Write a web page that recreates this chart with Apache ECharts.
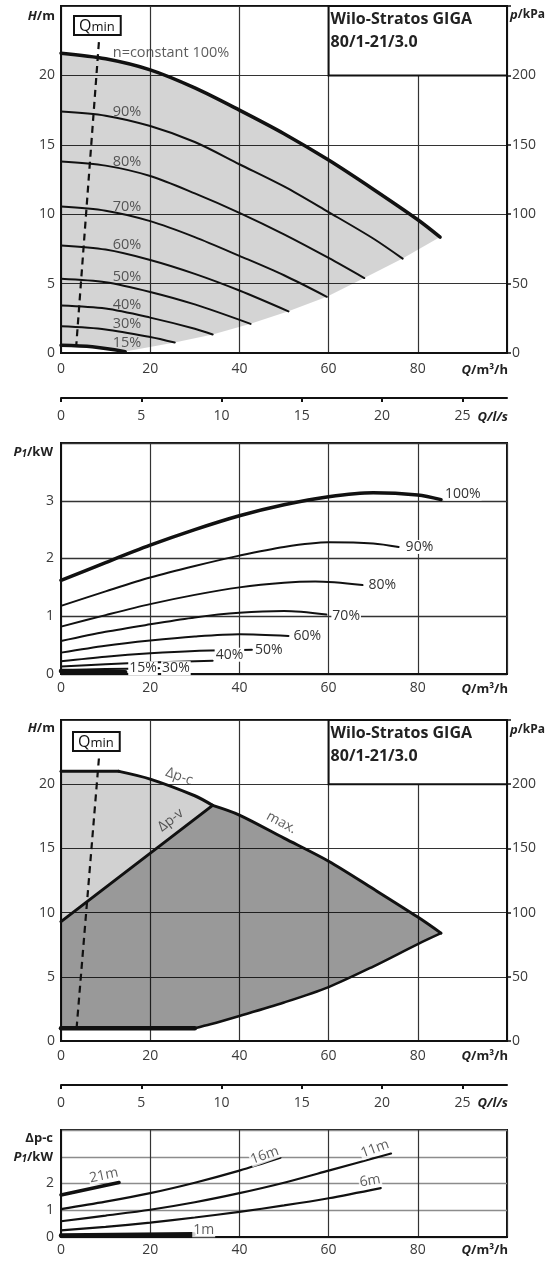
<!DOCTYPE html>
<html><head><meta charset="utf-8">
<script src="https://cdn.jsdelivr.net/npm/echarts@6/dist/echarts.min.js"></script>
<style>html,body{margin:0;padding:0;background:#fff;}#chart{width:557px;height:1263px;}</style>
</head><body><div id="chart"></div>
<script>
// ================= DATA =================
const qTicks = [0, 20, 40, 60, 80];          // Q / m³/h
const qlsTicks = [0, 5, 10, 15, 20, 25];     // Q / l/s
const hTicks = [0, 5, 10, 15, 20];           // H / m
const pTicks = [0, 50, 100, 150, 200];       // p / kPa
const p1Ticks = [0, 1, 2, 3];                // P1 / kW (chart 2)
const p1TicksB = [0, 1, 2];                  // P1 / kW (chart 4)

// Chart 1: H(Q) at n = constant
const h100 = [[0,21.6],[10,21.2],[20,20.4],[30,19.1],[40,17.5],[50,15.8],[60,13.9],[70,11.8],[80,9.6],[85,8.35]];
const h90  = [[0,17.4],[10,17.1],[20,16.35],[30,15.2],[40,13.6],[50,12.0],[60,10.15],[70,8.25],[76.6,6.8]];
const h80  = [[0,13.8],[10,13.5],[20,12.75],[30,11.5],[40,10.1],[50,8.55],[60,6.85],[68,5.4]];
const h70  = [[0,10.55],[10,10.25],[20,9.5],[30,8.35],[40,7.0],[50,5.6],[59.6,4.05]];
const h60  = [[0,7.75],[10,7.45],[20,6.7],[30,5.7],[40,4.5],[51,3.0]];
const h50  = [[0,5.35],[10,5.1],[20,4.4],[30,3.5],[42.5,2.1]];
const h40  = [[0,3.42],[10,3.2],[20,2.55],[30,1.75],[34,1.33]];
const h30  = [[0,1.92],[10,1.7],[20,1.15],[25.5,0.75]];
const h15  = [[0,0.56],[7,0.45],[14.4,0.1]];
const hEnds = [[14.4,0.1],[25.5,0.75],[34,1.33],[42.5,2.1],[51,3.0],[59.6,4.05],[68,5.4],[76.6,6.8],[85,8.35]];
const qmin1 = [[8.5,22.4],[3.4,0.45]];
const hLabels = [['n=constant 100%',21.6],['90%',17.4],['80%',13.8],['70%',10.54],['60%',7.77],['50%',5.5],['40%',3.45],['30%',2.12],['15%',0.76]];
const hLabelQ = 11.6;

// Chart 2: P1(Q)
const p100 = [[0,1.62],[10,1.93],[20,2.23],[30,2.5],[40,2.74],[50,2.93],[60,3.07],[70,3.14],[80,3.1],[85.2,3.02]];
const p90  = [[0,1.18],[10,1.43],[20,1.67],[30,1.87],[40,2.05],[50,2.2],[60,2.28],[70,2.26],[75.7,2.2]];
const p80  = [[0,0.82],[10,1.02],[20,1.21],[30,1.37],[40,1.5],[50,1.58],[57,1.6],[67.6,1.54]];
const p70  = [[0,0.57],[10,0.73],[20,0.86],[30,0.98],[40,1.06],[50,1.09],[59.5,1.03]];
const p60  = [[0,0.37],[10,0.49],[20,0.58],[30,0.65],[40,0.69],[51,0.66]];
const p50  = [[0,0.22],[10,0.3],[20,0.36],[30,0.4],[42.8,0.42]];
const p40  = [[0,0.13],[10,0.17],[20,0.2],[34,0.23]];
const p30  = [[0,0.07],[10,0.085],[22,0.1]];
const p15  = [[0,0.05],[14.4,0.03]];

// Chart 3: control modes
const dpcFlat  = [[0,21],[13,21]];
const dpcCurve = [[13,21],[20,20.4],[30,19.1],[34,18.35]];
const maxCurve = [[34,18.35],[40,17.6],[50,15.8],[60,14.0],[70,11.85],[80,9.65],[85.2,8.4]];
const dpv      = [[0,9.3],[34,18.35]];
const minFlat  = [[0,1.0],[30,1.0]];
const minCurve = [[30,1.0],[33.5,1.3],[40,1.95],[50,3.0],[60,4.2],[70,5.8],[80,7.55],[85.2,8.4]];
const qmin3 = [[8.5,22.0],[3.4,0.6]];
const ctlLabels = [['Δp-c',26.5,20.6,-20],['Δp-v',24.6,17.2,38],['max.',49.4,17.0,-28]];

// Chart 4: P1 at Δp-c
const c21 = [[0,1.57],[13,2.04]];
const c16 = [[0,1.04],[10,1.32],[20,1.64],[30,2.03],[40,2.48],[49.2,2.96]];
const c11 = [[0,0.59],[10,0.8],[20,1.02],[30,1.3],[40,1.64],[50,2.03],[60,2.48],[74,3.12]];
const c6  = [[0,0.25],[10,0.38],[20,0.54],[30,0.73],[40,0.94],[50,1.18],[60,1.45],[71.7,1.83]];
const c1  = [[0,0.06],[29.7,0.1]];
const cLabels = [['21m',9.6,2.3,12],['16m',45.7,3.05,20],['11m',70.4,3.3,20],['6m',69.3,2.1,10],['1m',32,0.25,0]];

const titleLines = ['Wilo-Stratos GIGA', '80/1-21/3.0'];

// ================= STYLE / HELPERS =================
const FONT = "'Open Sans', 'DejaVu Sans', sans-serif";
const INK = '#111';
const TXT = '#3a3a3a';
const GRIDC = '#333';

function gridBox(top, height, show) {
  return {left:61, right:50, top, height, show, borderColor:INK, borderWidth:2, backgroundColor:'transparent', containLabel:false, outerBoundsMode:'none'};
}
function qX(gi, margin) {
  return {type:'value', gridIndex:gi, min:0, max:100, interval:20,
    axisLine:{show:true, onZero:false, lineStyle:{color:INK, width:2}}, axisTick:{show:false},
    axisLabel:{margin, color:TXT, fontSize:14, fontFamily:FONT, formatter:v => qTicks.includes(v) ? String(v) : '', showMaxLabel:false},
    splitLine:{show:true, lineStyle:{color:GRIDC, width:1.2}}};
}
function lsX(gi) {
  return {type:'value', gridIndex:gi, min:0, max:100/3.6, interval:5,
    axisLine:{show:true, onZero:false, lineStyle:{color:INK, width:2}},
    axisTick:{show:true, length:4, lineStyle:{color:INK, width:2}},
    axisLabel:{margin:11, color:TXT, fontSize:14, fontFamily:FONT, formatter:v => qlsTicks.includes(v) ? String(v) : '', showMaxLabel:false},
    splitLine:{show:false}};
}
function hY(gi) {
  return {type:'value', gridIndex:gi, min:0, max:25, interval:5,
    axisLine:{show:true, onZero:false, lineStyle:{color:INK, width:2}}, axisTick:{show:false},
    axisLabel:{margin:6, color:TXT, fontSize:14, fontFamily:FONT, formatter:v => hTicks.includes(v) ? String(v) : ''},
    splitLine:{show:true, lineStyle:{color:GRIDC, width:1.2}}};
}
function pY(gi) {
  return {type:'value', gridIndex:gi, position:'right', min:0, max:250, interval:50,
    axisLine:{show:true, onZero:false, lineStyle:{color:INK, width:2}},
    axisTick:{show:true, length:4, lineStyle:{color:INK, width:1.5}},
    axisLabel:{margin:5, color:TXT, fontSize:14, fontFamily:FONT, formatter:v => pTicks.includes(v) ? String(v) : ''},
    splitLine:{show:false}};
}
function kwY(gi, ticks, splitColor) {
  return {type:'value', gridIndex:gi, min:0, max:4, interval:1,
    axisLine:{show:true, onZero:false, lineStyle:{color:INK, width:2}}, axisTick:{show:false},
    axisLabel:{margin:7, color:TXT, fontSize:14, fontFamily:FONT, formatter:v => ticks.includes(v) ? String(v) : ''},
    splitLine:{show:true, lineStyle:{color:splitColor, width:1.3}}};
}
function hiddenY(gi) { return {type:'value', gridIndex:gi, min:0, max:1, show:false}; }

function curve(xi, yi, data, w, extra) {
  return Object.assign({type:'line', xAxisIndex:xi, yAxisIndex:yi, data, symbol:'none', showSymbol:false,
    smooth:0.3, silent:true, z:3, lineStyle:{color:INK, width:w, cap:'round'}}, extra || {});
}
function polygon(xi, yi, pts, fill) {
  return {type:'custom', xAxisIndex:xi, yAxisIndex:yi, silent:true, z:1, data:[[0,0]],
    renderItem:(params, api) => ({type:'polygon', shape:{points: pts.map(p => api.coord(p))}, style:{fill, stroke:null}})};
}
function labelStyle(extra) {
  return Object.assign({color:'#333', fontSize:14.5, fontFamily:FONT}, extra || {});
}
function textSeries(xi, yi, items, base) {
  return {type:'scatter', xAxisIndex:xi, yAxisIndex:yi, symbolSize:0, silent:true, z:6,
    data: items.map(it => ({value:[it.x, it.y], label: Object.assign({show:true, formatter:it.t, rotate:it.r || 0}, labelStyle(base))}))};
}
function endLbl(text, distance, offset) {
  return {endLabel: Object.assign({show:true, formatter:text, distance, offset: offset || [0,0],
    backgroundColor:'#fff', padding:[0,1]}, labelStyle({fontSize:14}))};
}

// Polygons
const topArea = [...h100, ...hEnds.slice().reverse().slice(1), ...h15.slice().reverse().slice(1)];
const lightArea = [...dpcFlat, ...dpcCurve.slice(1), dpv[0]];
const darkArea = [...dpv, ...maxCurve.slice(1), ...minCurve.slice().reverse().slice(1), minFlat[0]];

const titleArea = () => ({silent:true,
  itemStyle:{color:'#fff', borderColor:INK, borderWidth:2},
  label:{show:true, position:'insideTopLeft', distance:3, formatter: titleLines.join('\n'),
    fontFamily:FONT, fontWeight:'bold', fontSize:16, lineHeight:23, color:'#222'},
  data:[[{coord:[60,20]},{coord:[100,25]}]]});

const dashed = {color:INK, width:2.2, type:[7,5]};

const series = [
  // ---- chart 1 ----
  polygon(0, 0, topArea, 'rgba(0,0,0,0.17)'),
  curve(0, 0, h100, 3.5),
  curve(0, 0, h90, 2), curve(0, 0, h80, 2), curve(0, 0, h70, 2), curve(0, 0, h60, 2),
  curve(0, 0, h50, 2), curve(0, 0, h40, 2), curve(0, 0, h30, 2), curve(0, 0, h15, 3.5),
  curve(0, 0, qmin1, 2.2, {smooth:false, z:4, lineStyle:dashed, markArea: titleArea()}),
  textSeries(0, 0, hLabels.map(l => ({t:l[0], x:hLabelQ, y:l[1]})), {position:'right', distance:0}),

  // ---- chart 2 ----
  curve(2, 3, p100, 3.5, endLbl('100%', 3, [0,-6])),
  curve(2, 3, p90, 2, endLbl('90%', 6)),
  curve(2, 3, p80, 2, endLbl('80%', 5)),
  curve(2, 3, p70, 2, endLbl('70%', 5, [0,1])),
  curve(2, 3, p60, 2, endLbl('60%', 4)),
  curve(2, 3, p50, 2, endLbl('50%', 2)),
  curve(2, 3, p40, 2, endLbl('40%', 2, [0,-6])),
  curve(2, 3, p30, 2, endLbl('30%', 2)),
  Object.assign(curve(2, 3, p15, 4.5, endLbl('15%', 3, [0,-4])), {z:4}),

  // ---- chart 3 ----
  polygon(3, 4, lightArea, 'rgba(0,0,0,0.18)'),
  polygon(3, 4, darkArea, 'rgba(0,0,0,0.40)'),
  curve(3, 4, dpcFlat, 3, {smooth:false}),
  curve(3, 4, dpcCurve, 3),
  curve(3, 4, maxCurve, 3),
  curve(3, 4, dpv, 3, {smooth:false}),
  curve(3, 4, minFlat, 4.5, {smooth:false}),
  curve(3, 4, minCurve, 2.5),
  curve(3, 4, qmin3, 2.2, {smooth:false, z:4, lineStyle:dashed, markArea: titleArea()}),
  textSeries(3, 4, ctlLabels.map(l => ({t:l[0], x:l[1], y:l[2], r:l[3]})), {position:'inside', fontSize:14}),

  // ---- chart 4 ----
  curve(5, 7, c21, 3.5, {smooth:false}),
  curve(5, 7, c16, 2.2),
  curve(5, 7, c11, 2.2),
  curve(5, 7, c6, 2.2),
  curve(5, 7, c1, 4.5, {smooth:false}),
  textSeries(5, 7, cLabels.map(l => ({t:l[0], x:l[1], y:l[2], r:l[3]})), {position:'inside', fontSize:14, backgroundColor:'#fff', padding:[0,1]})
];

// ---------- axis names / boxes as text ----------
const rich = {
  i:{fontFamily:FONT, fontSize:13, fontWeight:'bold', fontStyle:'italic', fill:'#222'},
  b:{fontFamily:FONT, fontSize:13, fontWeight:'bold', fill:'#222'},
  k:{fontFamily:FONT, fontSize:12, fontWeight:'bold', fill:'#222'},
  s:{fontFamily:FONT, fontSize:10, fontWeight:'bold', fontStyle:'italic', fill:'#222', verticalAlign:'bottom', padding:[5,0,0,0]}
};
function txt(x, y, text, align) {
  return {type:'text', x, y, z:100, silent:true, style:{text, rich, align, verticalAlign:'middle', fill:'#222', fontFamily:FONT, fontSize:13}};
}
function qminBox(x, y) {
  return {type:'text', x, y, z:100, silent:true, style:{
    text:'{q|Q}{m|min}', align:'left', verticalAlign:'top',
    rich:{q:{fontFamily:FONT, fontSize:16, fill:'#111'}, m:{fontFamily:FONT, fontSize:13, fill:'#111', padding:[3,0,0,0]}},
    backgroundColor:'#fff', borderColor:INK, borderWidth:2, padding:[1,5,0,4]}};
}
const graphic = [
  txt(55, 16, '{i|H}{b|/m}', 'right'),
  txt(510, 15, '{i|p}{k|/kPa}', 'left'),
  txt(508, 370, '{i|Q}{b|/m³/h}', 'right'),
  txt(508, 417, '{i|Q/l/s}', 'right'),
  txt(53, 452, '{i|P}{s|1}{b|/kW}', 'right'),
  txt(508, 689, '{i|Q}{b|/m³/h}', 'right'),
  txt(55, 728, '{i|H}{b|/m}', 'right'),
  txt(510, 730, '{i|p}{k|/kPa}', 'left'),
  txt(508, 1056, '{i|Q}{b|/m³/h}', 'right'),
  txt(508, 1103, '{i|Q/l/s}', 'right'),
  txt(53, 1138, '{b|Δp-c}', 'right'),
  txt(53, 1157, '{i|P}{s|1}{b|/kW}', 'right'),
  txt(508, 1250, '{i|Q}{b|/m³/h}', 'right'),
  qminBox(75, 17),
  qminBox(74, 733)
];

const option = {
  animation:false,
  backgroundColor:'#fff',
  textStyle:{fontFamily:FONT},
  grid:[gridBox(6,347,true), gridBox(397,1,false), gridBox(443,231,true), gridBox(720,321,true), gridBox(1084,1,false), gridBox(1130,107,true)],
  xAxis:[qX(0,9), lsX(1), qX(2,7), qX(3,8), lsX(4), qX(5,6)],
  yAxis:[hY(0), pY(0), hiddenY(1), kwY(2, p1Ticks, GRIDC), hY(3), pY(3), hiddenY(4), kwY(5, p1TicksB, '#8c8c8c')],
  series,
  graphic
};
const chart = echarts.init(document.getElementById('chart'), null, {renderer:'canvas'});
chart.setOption(option);
</script></body></html>
